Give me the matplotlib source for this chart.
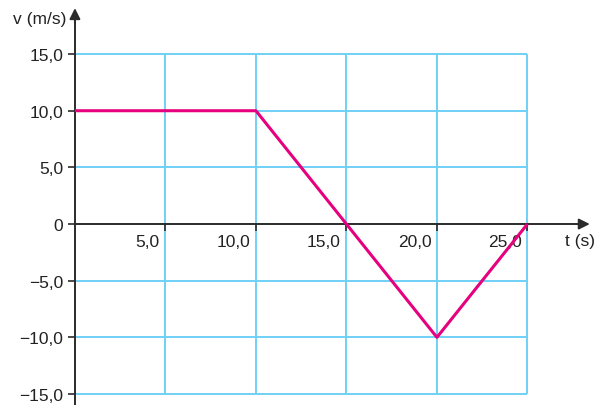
import numpy as np
import matplotlib.pyplot as plt
from matplotlib.transforms import ScaledTranslation

plt.rcParams['font.family'] = ['Liberation Sans', 'DejaVu Sans']

# velocidade x tempo
t = [0, 10, 20, 25]
v = [10, 10, -10, 0]

x_ticks = [5, 10, 15, 20, 25]
x_labels = ['5,0', '10,0', '15,0', '20,0', '25,0']
y_ticks = [-15, -10, -5, 0, 5, 10, 15]
y_labels = ['\u221215,0', '\u221210,0', '\u22125,0', '0', '5,0', '10,0', '15,0']

axis_col = '#2b2b2b'
grid_col = '#6fd0f4'
line_col = '#e6007e'
fs = 12.5

fig = plt.figure(figsize=(5.98, 4.06), dpi=100)
ax = fig.add_axes([0, 0, 1, 1])
ax.set_xlim(-4.14, 28.9)
ax.set_ylim(-15.97, 19.86)

# grade
ax.vlines(x_ticks, -15, 15, color=grid_col, lw=1.4, zorder=1)
ax.hlines([y for y in y_ticks if y != 0], 0, 25, color=grid_col, lw=1.4, zorder=1)

ax.plot(t, v, color=line_col, lw=2.2, zorder=3, solid_capstyle='butt')

# eixos
for s in ['top', 'right']:
    ax.spines[s].set_visible(False)
ax.spines['left'].set_position(('data', 0))
ax.spines['bottom'].set_position(('data', 0))
ax.spines['left'].set_bounds(-16.5, 18.5)
ax.spines['bottom'].set_bounds(0, 28.0)
for s in ['left', 'bottom']:
    ax.spines[s].set_color(axis_col)
    ax.spines[s].set_linewidth(1.4)
    ax.spines[s].set_zorder(2)

ax.annotate('', xy=(0, 19.3), xytext=(0, 17.5),
            arrowprops=dict(arrowstyle='-|>', color=axis_col, lw=1.4, mutation_scale=16))
ax.annotate('', xy=(28.6, 0), xytext=(27.5, 0),
            arrowprops=dict(arrowstyle='-|>', color=axis_col, lw=1.4, mutation_scale=16))

ax.set_xticks(x_ticks, x_labels)
ax.set_yticks(y_ticks, y_labels)
ax.tick_params(axis='both', colors=axis_col, labelcolor='#222222', labelsize=fs,
               direction='out', length=5, width=1.2)
ax.tick_params(axis='y', pad=3.5)
ax.tick_params(axis='x', pad=2.5)

off = ScaledTranslation(-4 / 72, 0, fig.dpi_scale_trans)
for lbl in ax.get_xticklabels():
    lbl.set_horizontalalignment('right')
    lbl.set_transform(lbl.get_transform() + off)

ax.text(-0.45, 18.1, 'v (m/s)', ha='right', va='center', fontsize=fs, color='#222222')
ax.text(27.05, -1.45, 't (s)', ha='left', va='center', fontsize=fs, color='#222222')

fig.savefig('out.png', dpi=100)
